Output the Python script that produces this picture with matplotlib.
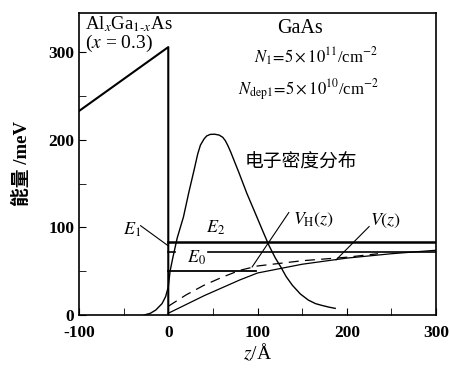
import numpy as np
import matplotlib
matplotlib.use('Agg')
import matplotlib.pyplot as plt

plt.rcParams['font.family'] = ['Liberation Serif', 'Noto Sans CJK SC']
plt.rcParams['mathtext.fontset'] = 'stix'
plt.rcParams['axes.unicode_minus'] = False

# barrier in AlGaAs [Angstrom, meV]
z_barrier = [-100, 0, 0]
e_barrier = [233, 306, 0]

# energy levels [meV]
E0, E1, E2 = 50.5, 72, 83.5
E0_end = 98
E1_gap = (8, 45)

# self-consistent potential V(z), solid
z_v = [0, 20, 40, 60, 80, 100, 150, 200, 250, 300]
v = [2, 12, 22, 31, 40, 48, 58, 65, 70, 74]

# Hartree potential V_H(z), dashed
z_vh = [0, 20, 40, 60, 80, 100, 150, 200, 235]
vh = [10, 23, 34, 43, 51, 56, 62, 66, 70]

# electron density distribution (scaled onto the meV axis)
z_dens = [-27, -20, -14, -7, -3, 0, 2, 5, 10, 17, 23, 29, 33, 36, 40, 43, 47, 52,
          57, 61, 64, 67, 70, 79, 88, 98, 105, 113, 120, 126, 132, 139, 148, 157,
          165, 172, 180, 187]
dens = [0, 2, 5.7, 13, 21, 32, 50, 65, 88, 112, 140, 166, 184, 194, 201, 204.5, 206.3, 206.5,
        205.5, 203, 199, 193, 186, 163, 139, 115, 98, 79, 65, 55, 44, 34, 24, 17,
        13, 11, 9, 7.6]

fig = plt.figure(figsize=(4.5, 3.7), dpi=100)
ax = fig.add_axes([0.1756, 0.1486, 0.7934, 0.8164])

ax.plot(z_barrier, e_barrier, color='black', lw=1.5)
ax.plot([0, 300], [E2, E2], color='black', lw=1.8)
ax.plot([0, E1_gap[0]], [E1, E1], color='black', lw=1.2)
ax.plot([E1_gap[1], 300], [E1, E1], color='black', lw=1.2)
ax.plot([0, E0_end], [E0, E0], color='black', lw=1.3)
ax.plot(z_v, v, color='black', lw=0.9)
ax.plot(z_vh, vh, color='black', lw=0.9, dashes=(8, 5))
ax.plot(z_dens, dens, color='black', lw=1.0)

ax.set_xlim(-100, 300)
ax.set_ylim(0, 345)
ax.set_xticks([-100, 0, 100, 200, 300])
ax.set_xticks(np.arange(-100, 301, 50), minor=True)
ax.set_yticks([0, 100, 200, 300])
ax.set_yticks(np.arange(0, 301, 50), minor=True)
ax.tick_params(which='both', direction='in', labelsize=12.5, length=5,
               top=False, right=False)
ax.tick_params(axis='x', pad=7)
for lab in ax.get_xticklabels() + ax.get_yticklabels():
    lab.set_fontweight('bold')
for s in ax.spines.values():
    s.set_linewidth(1.2)

ax.set_xlabel(r'$z$/Å', fontsize=14, labelpad=1)
ax.set_ylabel('能量 /meV', fontsize=13.5, labelpad=12, fontweight='bold')

fs = 13
ax.text(-93, 332, r'Al$_x$Ga$_{1\text{-}x}$As', fontsize=13.5, va='center', ha='left')
ax.text(-93, 310, r'($x$ = 0.3)', fontsize=14, va='center', ha='left')
ax.text(148, 327, 'GaAs', fontsize=14.5, va='center', ha='center')
ax.text(165, 295, r'$N_1\!=\!5\times10^{11}$/cm$^{-2}$', fontsize=12, va='center', ha='center')
ax.text(157, 257, r'$N_{\rm dep1}\!=\!5\times10^{10}$/cm$^{-2}$', fontsize=12, va='center', ha='center')
ax.text(148, 175, '电子密度分布', fontsize=13.5, va='center', ha='center',
        family=['Noto Sans CJK SC'])

ax.text(-41, 97, r'$E_1$', fontsize=fs, va='center', ha='center')
ax.plot([-31, 0], [102, 79], color='black', lw=0.8)
ax.text(53, 100, r'$E_2$', fontsize=fs, va='center', ha='center')
ax.text(32, 65, r'$E_0$', fontsize=fs, va='center', ha='center')
ax.text(163, 109, r'$V_{\rm H}(z)$', fontsize=fs, va='center', ha='center')
ax.plot([135, 94], [117, 55], color='black', lw=0.8)
ax.text(243, 108, r'$V(z)$', fontsize=fs, va='center', ha='center')
ax.plot([225, 188], [101, 63], color='black', lw=0.8)

fig.savefig('out.png', dpi=100)
